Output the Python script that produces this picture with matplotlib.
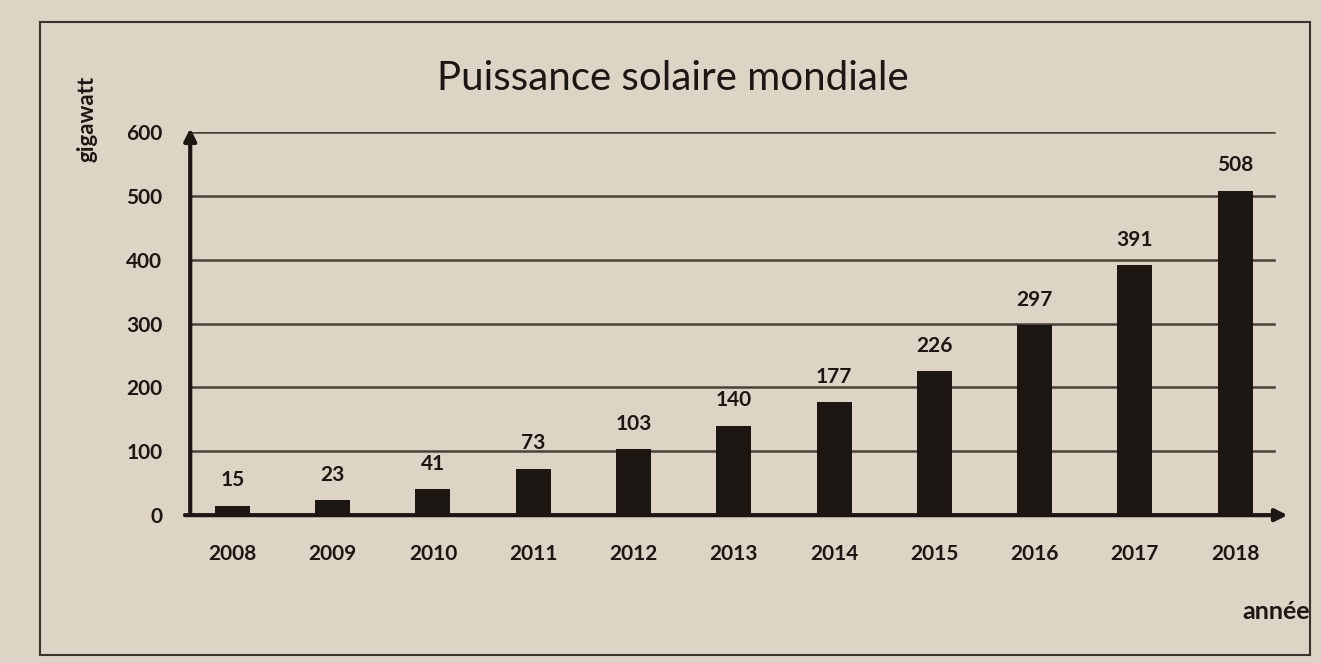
import matplotlib
matplotlib.use("Agg")
import matplotlib.pyplot as plt
from matplotlib.patches import Rectangle

years = ["2008", "2009", "2010", "2011", "2012", "2013", "2014", "2015", "2016", "2017", "2018"]
values = [15, 23, 41, 73, 103, 140, 177, 226, 297, 391, 508]
yticks = [0, 100, 200, 300, 400, 500, 600]

title = "Puissance solaire mondiale"
ylabel = "gigawatt"
xlabel = "année"

plt.rcParams['font.family'] = ['Lato', 'DejaVu Sans']
paper = "#ddd4c6"
ink = "#1c1712"
gridc = "#4a4038"

fig = plt.figure(figsize=(13.21, 6.63), dpi=100, facecolor=paper)
ax = fig.add_axes([0.144, 0.223, 0.829, 0.578])
ax.set_facecolor(paper)

x = list(range(len(years)))
ax.bar(x, values, width=0.35, color=ink, zorder=3)
ax.set_xlim(-0.42, 10.5)
ax.set_ylim(0, 600)

for yv in yticks[1:]:
    ax.axhline(yv, color=gridc, lw=1.8, zorder=1, xmin=0.0, xmax=0.99)

for sp in ax.spines.values():
    sp.set_visible(False)

ax.set_yticks(yticks)
ax.set_yticklabels([str(v) for v in yticks], fontsize=15, fontweight='bold', color=ink)
ax.set_xticks(x)
ax.set_xticklabels(years, fontsize=15, fontweight='bold', color=ink)
ax.tick_params(axis='both', length=0)
ax.tick_params(axis='y', pad=20)
ax.tick_params(axis='x', pad=21)

# axes with arrows
ax.annotate("", xy=(-0.42, 610), xytext=(-0.42, 0), xycoords='data',
            arrowprops=dict(arrowstyle='-|>', color=ink, lw=3, mutation_scale=18),
            annotation_clip=False, zorder=4)
ax.annotate("", xy=(10.55, 0), xytext=(-0.5, 0), xycoords='data',
            arrowprops=dict(arrowstyle='-|>', color=ink, lw=3, mutation_scale=18),
            annotation_clip=False, zorder=4)

for xi, v in zip(x, values):
    ax.annotate(str(v), (xi, v), xytext=(0, 11), textcoords='offset points',
                ha='center', va='bottom', fontsize=15, fontweight='bold', color=ink)

fig.text(0.509, 0.882, title, ha='center', va='center', fontsize=29, color=ink)
fig.text(0.066, 0.82, ylabel, ha='center', va='center', rotation=90, fontsize=16,
         fontweight='bold', color=ink)
fig.text(0.966, 0.077, xlabel, ha='center', va='center', fontsize=18, fontweight='bold', color=ink)

fig.patches.append(Rectangle((0.03, 0.012), 0.962, 0.955, transform=fig.transFigure,
                             fill=False, edgecolor="#3a332c", lw=1.5))

fig.savefig("out.png", dpi=100, facecolor=paper)
